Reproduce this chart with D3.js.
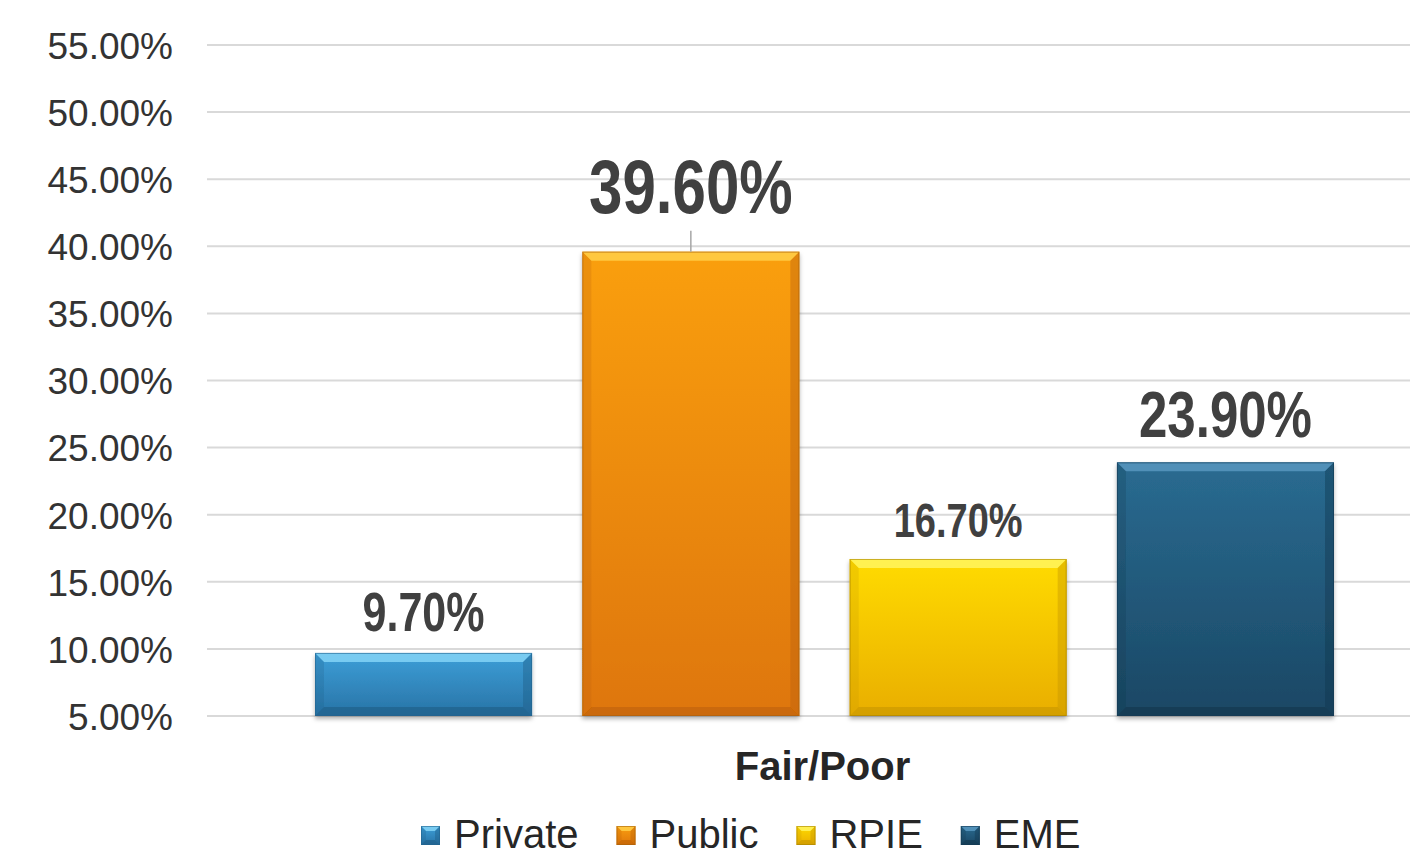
<!DOCTYPE html>
<html>
<head>
<meta charset="utf-8">
<script src="https://cdn.jsdelivr.net/npm/d3@7/dist/d3.min.js"></script>
<style>
  html, body { margin: 0; padding: 0; background: #ffffff; }
  svg { display: block; font-family: "Liberation Sans", Arial, sans-serif; }
</style>
</head>
<body>
<svg id="chart" width="1410" height="857"></svg>
<script>
// Share of schools rated Fair/Poor, by school type
const categories = ["Fair/Poor"];
const seriesNames = ["Private", "Public", "RPIE", "EME"];
const fairPoorValues = [9.7, 39.6, 16.7, 23.9];
const yTickValues = [5, 10, 15, 20, 25, 30, 35, 40, 45, 50, 55];

// Visual style per series: gradient stops and bevel tones
const seriesStyle = {
  Private: { top: "#3d9fd8", bottom: "#2873a6", light: "#7fd0f4", dark: "#1d5a82", edge: "#23648f" },
  Public:  { top: "#fa9f10", bottom: "#de760a", light: "#ffcc45", dark: "#b95f06", edge: "#a9600a" },
  RPIE:    { top: "#ffdb00", bottom: "#e9ae00", light: "#fff35a", dark: "#c39400", edge: "#a88400" },
  EME:     { top: "#2a6b91", bottom: "#1a4764", light: "#5595bd", dark: "#11354b", edge: "#143b53" }
};
// Data label typography (size, baseline gap above bar)
const labelStyle = {
  Private: { size: 43, gap: 22 },
  Public:  { size: 60, gap: 39, leader: true },
  RPIE:    { size: 38, gap: 22 },
  EME:     { size: 51, gap: 25 }
};

const svg = d3.select("#chart");
const gridLeft = 207, gridRight = 1410;

const y = d3.scaleLinear().domain([5, 55]).range([716, 45]);
const x = d3.scaleBand().domain(seriesNames).range([315, 1334]).paddingInner(0.188).paddingOuter(0);

const defs = svg.append("defs");
seriesNames.forEach(name => {
  const s = seriesStyle[name];
  const g = defs.append("linearGradient").attr("id", "grad-" + name)
    .attr("x1", 0).attr("y1", 0).attr("x2", 0).attr("y2", 1);
  g.append("stop").attr("offset", "0%").attr("stop-color", s.top);
  g.append("stop").attr("offset", "100%").attr("stop-color", s.bottom);
});
const shadow = defs.append("filter").attr("id", "barShadow")
  .attr("x", "-10%").attr("y", "-10%").attr("width", "120%").attr("height", "130%");
shadow.append("feDropShadow").attr("dx", 0).attr("dy", 3).attr("stdDeviation", 2)
  .attr("flood-color", "#000").attr("flood-opacity", 0.3);

// Gridlines
svg.append("g")
  .selectAll("line").data(yTickValues).join("line")
  .attr("x1", gridLeft).attr("x2", gridRight)
  .attr("y1", d => y(d)).attr("y2", d => y(d))
  .attr("stroke", "#d9d9d9").attr("stroke-width", 2);

// Y axis labels
const yAxis = d3.axisLeft(y).tickValues(yTickValues)
  .tickFormat(d => d.toFixed(2) + "%").tickSize(0).tickPadding(34);
const yg = svg.append("g").attr("transform", `translate(${gridLeft},0)`).call(yAxis);
yg.select(".domain").remove();
yg.selectAll("text").attr("font-size", 37).attr("fill", "#333333")
  .attr("font-family", "Liberation Sans, Arial, sans-serif").attr("dy", "0.36em");

// Beveled box drawing
function bevelBox(g, x0, y0, w, h, s, gradId, b) {
  const x1 = x0 + w, y1 = y0 + h;
  g.append("rect").attr("x", x0).attr("y", y0).attr("width", w).attr("height", h)
    .attr("fill", `url(#${gradId})`);
  const poly = (pts, fill, op) => g.append("polygon")
    .attr("points", pts.map(p => p.join(",")).join(" "))
    .attr("fill", fill).attr("fill-opacity", op);
  poly([[x0, y0], [x1, y0], [x1 - b, y0 + b], [x0 + b, y0 + b]], s.light, 0.9);
  poly([[x0, y1], [x1, y1], [x1 - b, y1 - b], [x0 + b, y1 - b]], s.dark, 0.55);
  poly([[x0, y0], [x0 + b, y0 + b], [x0 + b, y1 - b], [x0, y1]], s.dark, 0.22);
  poly([[x1, y0], [x1 - b, y0 + b], [x1 - b, y1 - b], [x1, y1]], s.dark, 0.4);
  g.append("rect").attr("x", x0 + 0.5).attr("y", y0 + 0.5).attr("width", w - 1).attr("height", h - 1)
    .attr("fill", "none").attr("stroke", s.edge).attr("stroke-opacity", 0.6).attr("stroke-width", 1);
}

// Bars
const bars = seriesNames.map((name, i) => ({ name, value: fairPoorValues[i] }));
const barLayer = svg.append("g");
bars.forEach(d => {
  const g = barLayer.append("g").attr("filter", "url(#barShadow)");
  bevelBox(g, x(d.name), y(d.value), x.bandwidth(), y(5) - y(d.value), seriesStyle[d.name], "grad-" + d.name, 9);
});

// Data labels
const labelLayer = svg.append("g");
bars.forEach(d => {
  const ls = labelStyle[d.name];
  const cx = x(d.name) + x.bandwidth() / 2;
  const baseY = y(d.value) - ls.gap;
  if (ls.leader) {
    labelLayer.append("line").attr("x1", cx).attr("x2", cx)
      .attr("y1", y(d.value) - 21).attr("y2", y(d.value))
      .attr("stroke", "#a6a6a6").attr("stroke-width", 1.5);
  }
  labelLayer.append("text")
    .attr("transform", `translate(${cx},${baseY}) scale(1,1.28)`)
    .attr("text-anchor", "middle")
    .attr("font-size", ls.size).attr("font-weight", "bold").attr("fill", "#404040")
    .text(d.value.toFixed(2) + "%");
});

// Category label
svg.append("g").selectAll("text").data(categories).join("text")
  .attr("x", (x.range()[0] + x.range()[1]) / 2 - 2).attr("y", 780)
  .attr("text-anchor", "middle").attr("font-size", 40).attr("font-weight", "bold")
  .attr("fill", "#262626").text(d => d);

// Legend
const legend = svg.append("g");
let lx = 421;
seriesNames.forEach(name => {
  const item = legend.append("g");
  bevelBox(item, lx, 826, 19, 19, seriesStyle[name], "grad-" + name, 5);
  const t = item.append("text").attr("x", lx + 33).attr("y", 848)
    .attr("font-size", 40).attr("fill", "#262626").text(name);
  lx += 33 + t.node().getComputedTextLength() + 38;
});
</script>
</body>
</html>
